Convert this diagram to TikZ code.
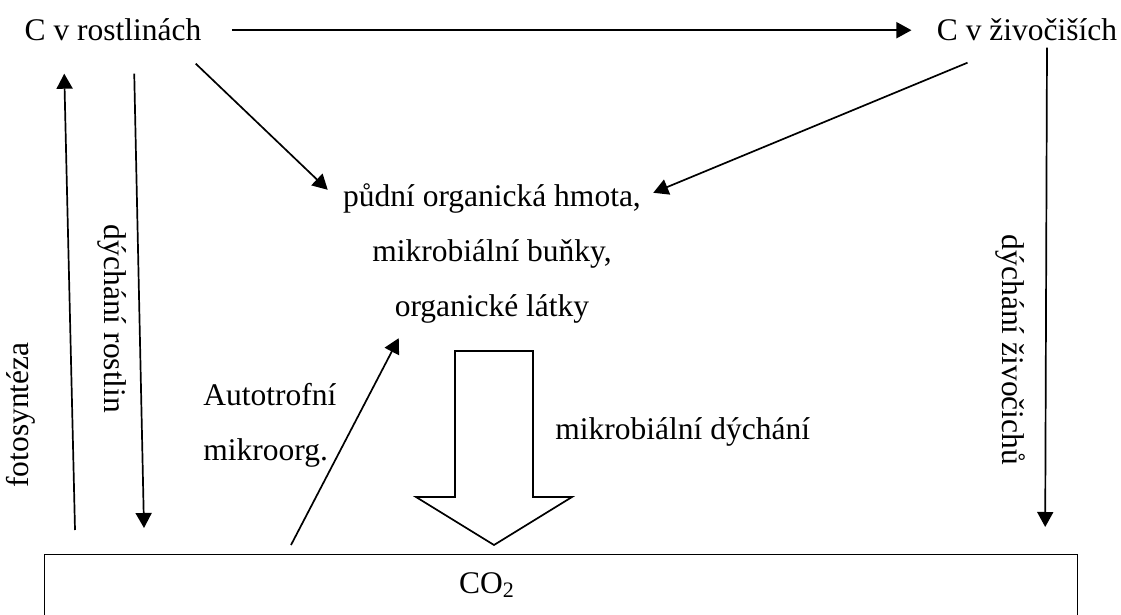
\documentclass[tikz,border=0pt]{standalone}
\usepackage{fontspec}
\setmainfont{Liberation Serif}
\usetikzlibrary{arrows,arrows.meta,positioning,calc}

\begin{document}
\begin{tikzpicture}[x=0.5pt, y=-0.5pt, font=\fontsize{15.75}{27.5}\selectfont,
    every node/.style={inner sep=0pt},
    arr/.style={-{Triangle[length=7.5pt,width=8pt]}, line width=0.85pt}]
    \useasboundingbox (0,0) rectangle (1121,615);

    % Carbon in plants and animals
    \node[anchor=base] (rost) at (113,41) {C v rostlinách};
    \node[anchor=base] (ziv) at (1027,41) {C v živočiších};
    \draw[arr, shorten <=15pt, shorten >=12.5pt] (rost.east) -- (rost.east -| ziv.west);

    % Soil organic matter
    \node[align=center] (som) at (492,253) {půdní organická hmota,\\ mikrobiální buňky,\\ organické látky};
    \draw[arr] ([shift={(-6,22)}]rost.south east) -- ([shift={(-15,7)}]som.north west);
    \draw[arr] ([shift={(31,21)}]ziv.south west) -- ([shift={(12,10)}]som.north east);

    % Soil with CO2
    \node[draw, line width=0.6pt, anchor=north west, minimum width=516.5pt, minimum height=60pt] (soil) at (44,554) {};
    \node[anchor=base] (co2) at (487,593) {CO\textsubscript{2}};

    % Vertical flows
    \draw[arr] ([shift={(31,-24)}]soil.north west) -- ([shift={(40,32)}]rost.south west);
    \draw[arr] ([shift={(110,32)}]rost.south west) -- ([shift={(100,-26)}]soil.north west);
    \draw[arr] ([shift={(20,6)}]ziv.south) -- ([shift={(-33,-27)}]soil.north east);
    \node[rotate=90] (foto) at (21,415) {fotosyntéza};
    \node[rotate=-90] (drost) at (112,319) {dýchání rostlin};
    \node[rotate=-90] (dziv) at (1010,350) {dýchání živočichů};

    % Autotrophs
    \node[align=left, anchor=north west] (auto) at (203,383) {Autotrofní\\mikroorg.};
    \draw[arr] ([shift={(247,-9)}]soil.north west) -- ([shift={(56,15)}]som.south west);

    % Microbial respiration
    \draw[line width=0.85pt] (455,351) -- (533,351) -- (533,497) -- (572,497) -- (494,545) -- (416,497) -- (455,497) -- cycle;
    \node[anchor=base west] (mdych) at (555,439) {mikrobiální dýchání};
\end{tikzpicture}
\end{document}
